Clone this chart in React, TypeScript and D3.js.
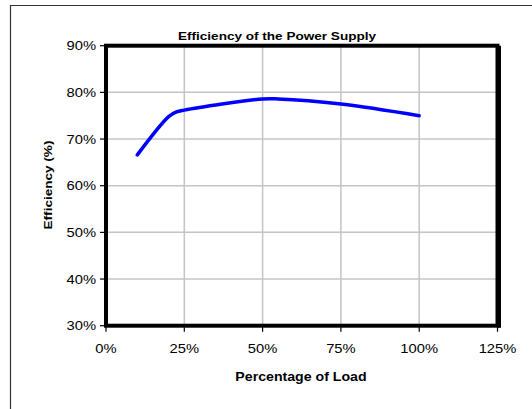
import React, { useEffect, useRef } from 'react';
import * as d3 from 'd3';

const loadPct = [10, 20, 22.5, 25, 50, 55, 75, 100];
const efficiencyPct = [66.6, 74.8, 75.8, 76.2, 78.6, 78.6, 77.5, 75.0];
const xTicks = [0, 25, 50, 75, 100, 125];
const yTicks = [30, 40, 50, 60, 70, 80, 90];

const FONT = '"Liberation Sans", Arial, sans-serif';
const STRETCH = 1.18;

function App() {
  const svgRef = useRef<SVGSVGElement>(null);

  useEffect(() => {
    const svg = d3.select(svgRef.current);
    svg.selectAll('*').remove();

    const left = 106, right = 497.5, top = 45.7, bottom = 325.7;

    const x = d3.scaleLinear().domain([0, 125]).range([left, right]);
    const y = d3.scaleLinear().domain([30, 90]).range([bottom, top]);

    // outer frame
    svg.append('path')
      .attr('d', 'M10.5,409 V5.5 H540')
      .attr('fill', 'none')
      .attr('stroke', '#333')
      .attr('stroke-width', 1.2);

    // gridlines
    svg.append('g')
      .selectAll('line')
      .data(xTicks.slice(1, -1))
      .enter().append('line')
      .attr('x1', d => x(d)).attr('x2', d => x(d))
      .attr('y1', top).attr('y2', bottom)
      .attr('stroke', '#c4c4c4')
      .attr('stroke-width', 1.5);

    svg.append('g')
      .selectAll('line')
      .data(yTicks.slice(1, -1))
      .enter().append('line')
      .attr('x1', left).attr('x2', right)
      .attr('y1', d => y(d)).attr('y2', d => y(d))
      .attr('stroke', '#c4c4c4')
      .attr('stroke-width', 1.5);

    // axes ticks
    svg.append('g')
      .selectAll('line')
      .data(yTicks)
      .enter().append('line')
      .attr('x1', left - 6).attr('x2', left)
      .attr('y1', d => y(d)).attr('y2', d => y(d))
      .attr('stroke', '#000')
      .attr('stroke-width', 1.2);

    svg.append('g')
      .selectAll('line')
      .data(xTicks)
      .enter().append('line')
      .attr('x1', d => x(d)).attr('x2', d => x(d))
      .attr('y1', bottom).attr('y2', bottom + 6)
      .attr('stroke', '#000')
      .attr('stroke-width', 1.2);

    // data line (lightly smoothed)
    const line = d3.line<number>()
      .x((_, i) => x(loadPct[i]))
      .y(d => y(d))
      .curve(d3.curveCatmullRom.alpha(0.5));

    svg.append('path')
      .datum(efficiencyPct)
      .attr('d', line)
      .attr('fill', 'none')
      .attr('stroke', '#0000ff')
      .attr('stroke-width', 3.5)
      .attr('stroke-linecap', 'round')
      .attr('stroke-linejoin', 'round');

    // plot border
    svg.append('rect')
      .attr('x', left).attr('y', top)
      .attr('width', right - left).attr('height', bottom - top)
      .attr('fill', 'none')
      .attr('stroke', '#000')
      .attr('stroke-width', 4);
    svg.append('line')
      .attr('x1', right + 2).attr('x2', right + 2)
      .attr('y1', top).attr('y2', bottom + 2)
      .attr('stroke', '#000')
      .attr('stroke-width', 3);

    const text = (tx: number, ty: number, s: string, anchor: string, size: number, bold: boolean, rot = 0) =>
      svg.append('text')
        .attr('transform', `translate(${tx},${ty}) rotate(${rot}) scale(${STRETCH},1)`)
        .attr('text-anchor', anchor)
        .attr('font-family', FONT)
        .attr('font-size', size)
        .attr('font-weight', bold ? 'bold' : 'normal')
        .attr('fill', '#000')
        .text(s);

    yTicks.forEach(t => text(96, y(t) + 4.5, `${t}%`, 'end', 12.5, false));
    xTicks.forEach(t => text(x(t), 353, `${t}%`, 'middle', 12.5, false));

    text(277, 39.5, 'Efficiency of the Power Supply', 'middle', 11.5, true);
    text(301, 380.5, 'Percentage of Load', 'middle', 12, true);
    text(51.5, 185, 'Efficiency (%)', 'middle', 11.5, true, -90);
  }, []);

  return (
    <svg ref={svgRef} width={532} height={409}
      style={{ position: 'absolute', left: 0, top: 0, background: '#fff' }}></svg>
  );
}

export default App;
